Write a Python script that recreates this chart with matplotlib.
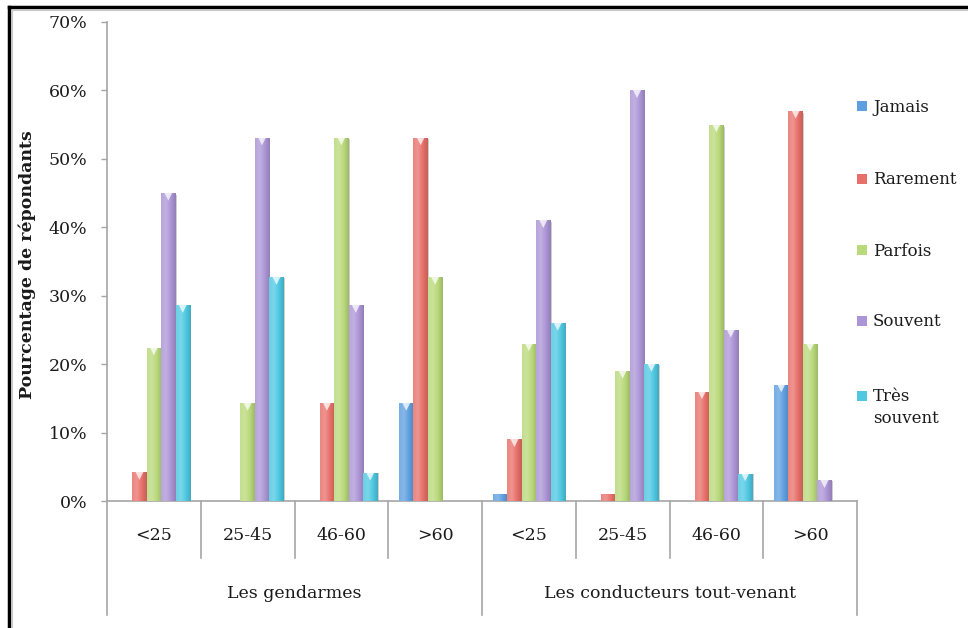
import matplotlib
matplotlib.use("Agg")
import matplotlib.pyplot as plt
import numpy as np
from matplotlib.colors import to_rgb
from matplotlib.lines import Line2D
from matplotlib.patches import Rectangle
import matplotlib.transforms as mtransforms

# ---- data ----
groups = ["Les gendarmes", "Les conducteurs tout-venant"]
age_labels = ["<25", "25-45", "46-60", ">60"]
series_names = ["Jamais", "Rarement", "Parfois", "Souvent", "Très\nsouvent"]

jamais      = [0.0, 0.0, 0.0, 14.3,   1.0, 0.0, 0.0, 17.0]
rarement    = [4.2, 0.0, 14.3, 53.1,  9.0, 1.0, 16.0, 57.0]
parfois     = [22.4, 14.3, 53.1, 32.7, 23.0, 19.0, 55.0, 23.0]
souvent     = [45.0, 53.1, 28.6, 0.0,  41.0, 60.0, 25.0, 3.0]
tres_souvent= [28.6, 32.7, 4.1, 0.0,   26.0, 20.0, 4.0, 0.0]

series = [jamais, rarement, parfois, souvent, tres_souvent]
colors = ["#5E9FE0", "#E8706A", "#B9D97A", "#AC95D6", "#4FC8E2"]

FONT = "DejaVu Serif"
plt.rcParams["font.family"] = [FONT]
TXT = "#1a1a1a"
GRAY = "#a6a6a6"
FS = 12.5

W, H = 968, 628
fig = plt.figure(figsize=(W / 100, H / 100), dpi=100)
fig.patch.set_facecolor("white")

def fx(px):
    return px / W

def fy(py):
    return 1 - py / H

ax_left, ax_right, ax_top, ax_bot = 107, 857, 22, 501
ax = fig.add_axes([fx(ax_left), fy(ax_bot), fx(ax_right - ax_left), (ax_bot - ax_top) / H])
ax.set_facecolor("white")

ncat = len(groups) * len(age_labels)
x = np.arange(ncat) + 0.5
bw = 1 / 6.5

def lighten(c, f):
    r = np.array(to_rgb(c))
    return tuple(r + (1 - r) * f)

def darken(c, f):
    r = np.array(to_rgb(c))
    return tuple(r * (1 - f))

for i, (vals, col) in enumerate(zip(series, colors)):
    v = np.array(vals) / 100.0
    bars = ax.bar(x + (i - 2) * bw, v, width=bw, color=col, edgecolor="none", zorder=3)
    cmap = matplotlib.colors.LinearSegmentedColormap.from_list(
        "g%d" % i,
        [lighten(col, 0.15), lighten(col, 0.25), col, darken(col, 0.15)],
    )
    grad = np.linspace(0, 1, 64).reshape(1, -1)
    for b in bars:
        h = b.get_height()
        if h <= 0:
            continue
        x0, wdt = b.get_x(), b.get_width()
        im = ax.imshow(grad, cmap=cmap, aspect="auto",
                       extent=[x0, x0 + wdt, 0, h], zorder=4,
                       interpolation="bilinear")
        im.set_clip_path(b)
        ax.add_patch(Rectangle((x0 + wdt, 0), wdt * 0.08, h * 0.995,
                               facecolor="#cfcfcf", edgecolor="none", zorder=2))
    vis = v > 0.012
    trans = mtransforms.offset_copy(ax.transData, fig=fig, x=0, y=-3.2, units="dots")
    ax.scatter((x + (i - 2) * bw)[vis], v[vis], marker="v", s=40, color="white",
               alpha=0.75, edgecolors="none", zorder=5, transform=trans)

ax.set_xlim(0, ncat)
ax.set_ylim(0, 0.7)
ax.set_yticks(np.arange(0, 0.71, 0.1))
ax.set_yticklabels(["%d%%" % round(t * 100) for t in np.arange(0, 0.71, 0.1)],
                   fontsize=FS, color=TXT, family=FONT)
ax.set_xticks([])
ax.tick_params(axis="y", direction="out", length=4, width=1, color=GRAY, pad=10)
for s in ["top", "right"]:
    ax.spines[s].set_visible(False)
for s in ["left", "bottom"]:
    ax.spines[s].set_color(GRAY)
    ax.spines[s].set_linewidth(1.2)

ax.set_ylabel("Pourcentage de répondants", fontsize=FS, fontweight="bold",
              color=TXT, family=FONT)
ax.yaxis.set_label_coords(-(ax_left - 36) / (ax_right - ax_left), (ax_bot - 265) / (ax_bot - ax_top))

# category axis: separators and labels
blend = mtransforms.blended_transform_factory(ax.transData, ax.transAxes)
h_ax = ax_bot - ax_top
y_cat_sep = -(558 - ax_bot) / h_ax
y_grp_sep = -(615 - ax_bot) / h_ax
y_cat_lab = -(535 - ax_bot) / h_ax
y_grp_lab = -(593 - ax_bot) / h_ax

for k in range(ncat + 1):
    yb = y_grp_sep if k % len(age_labels) == 0 else y_cat_sep
    ax.plot([k, k], [0, yb], color=GRAY, lw=1.2, transform=blend, clip_on=False, zorder=1)

for k in range(ncat):
    ax.text(k + 0.5, y_cat_lab, age_labels[k % len(age_labels)], transform=blend,
            ha="center", va="center", fontsize=FS, color=TXT, family=FONT)
for g, name in enumerate(groups):
    ax.text(g * len(age_labels) + len(age_labels) / 2, y_grp_lab, name, transform=blend,
            ha="center", va="center", fontsize=FS, color=TXT, family=FONT)

# legend (manual)
leg_y = [107, 180, 251, 322, 397]
for name, col, ly in zip(series_names, colors, leg_y):
    fig.patches.append(Rectangle((fx(857), fy(ly + 4)), fx(10), 10 / H,
                                 transform=fig.transFigure, facecolor=col,
                                 edgecolor="none"))
    if "\n" in name:
        fig.text(fx(873), fy(ly - 9), name, ha="left", va="top", fontsize=12,
                 color=TXT, family=FONT, linespacing=1.35)
    else:
        fig.text(fx(873), fy(ly), name, ha="left", va="center", fontsize=12,
                 color=TXT, family=FONT)

# outer frame (top and left visible)
fig.lines.append(Line2D([fx(9), fx(9)], [fy(7), fy(H + 10)], transform=fig.transFigure,
                        color="black", lw=2.5))
fig.lines.append(Line2D([fx(9), fx(W + 10)], [fy(7), fy(7)], transform=fig.transFigure,
                        color="black", lw=2.5))
fig.lines.append(Line2D([fx(12), fx(12)], [fy(10), fy(H + 10)], transform=fig.transFigure,
                        color="#c8c8c8", lw=0.8))
fig.lines.append(Line2D([fx(12), fx(W + 10)], [fy(10), fy(10)], transform=fig.transFigure,
                        color="#c8c8c8", lw=0.8))

fig.savefig("out.png", dpi=100, facecolor="white")
